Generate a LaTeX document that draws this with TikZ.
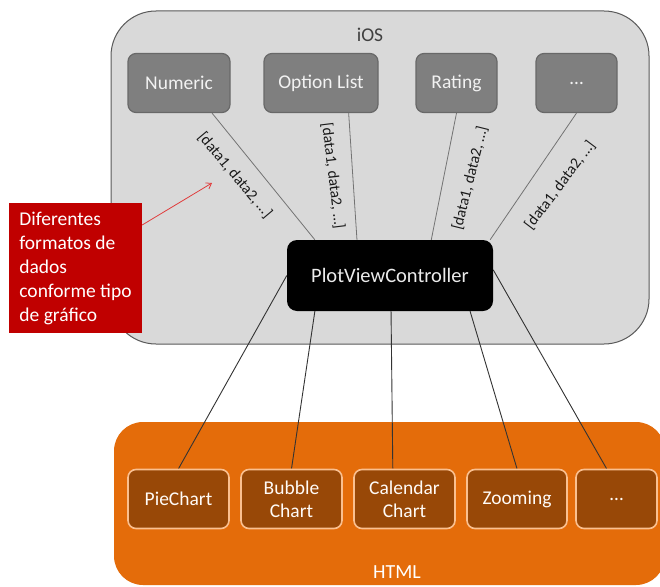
\documentclass[tikz,border=0pt]{standalone}
\usepackage{fontspec}
\setmainfont{Carlito}
\usetikzlibrary{calc,arrows.meta}
\pgfdeclarelayer{bg}
\pgfdeclarelayer{mid}
\pgfsetlayers{bg,mid,main}

\definecolor{iosfill}{HTML}{D9D9D9}
\definecolor{iosedge}{HTML}{595959}
\definecolor{modfill}{HTML}{7F7F7F}
\definecolor{modedge}{HTML}{686868}
\definecolor{htmlfill}{HTML}{E46C0A}
\definecolor{chartfill}{HTML}{984807}
\definecolor{chartedge}{HTML}{FAC090}
\definecolor{notefill}{HTML}{C00000}
\definecolor{notearrow}{HTML}{E03C3C}

\tikzset{
  container/.style={rectangle, inner sep=0pt},
  module/.style={rectangle, rounded corners=8pt, fill=modfill, draw=modedge,
    line width=1.2pt, text=white!95!black, inner sep=0pt,
    font=\fontsize{19.5}{23}\selectfont, minimum height=59pt},
  chart/.style={rectangle, rounded corners=8pt, fill=chartfill, draw=chartedge,
    line width=1.6pt, text=white!97!orange, inner sep=0pt, align=center,
    font=\fontsize{19.5}{23}\selectfont, minimum height=59pt},
  datalabel/.style={inner sep=0pt, text=black!90, font=\fontsize{15.5}{18}\selectfont},
  toplink/.style={draw=black!55, line width=0.8pt},
  botlink/.style={draw=black!80, line width=0.9pt}
}

\begin{document}
\begin{tikzpicture}[x=1pt, y=-1pt]
\useasboundingbox (0,0) rectangle (660,586);

% containers
\begin{pgfonlayer}{bg}
  \fill[white] (0,0) rectangle (660,586);
  \draw[fill=iosfill, draw=iosedge, line width=1pt, rounded corners=45pt]
    (111,11) rectangle (649,344);
  \fill[htmlfill, rounded corners=29pt] (114,422) rectangle (665,585);
\end{pgfonlayer}
\node[container, text=black!75, font=\fontsize{19.5}{23}\selectfont] (ioslabel) at (370,35) {iOS};
\node[container, text=white, font=\fontsize{20}{24}\selectfont] (htmllabel) at (397,572) {HTML};

% iOS data modules
\node[module, minimum width=102pt] (num)  at (179,83)   {Numeric};
\node[module, minimum width=114pt] (opt)  at (321,83)   {Option List};
\node[module, minimum width=81pt]  (rat)  at (456.5,83) {Rating};
\node[module, minimum width=81pt]  (more) at (576.5,83) {…};

% central controller
\node[rectangle, rounded corners=10pt, fill=black, text=white!92!black,
  minimum width=206pt, minimum height=71pt, inner sep=0pt,
  font=\fontsize{20.5}{24}\selectfont] (pvc) at (390,275.5) {PlotViewController};

% HTML charts
\node[chart, minimum width=101pt] (pie)  at (178.5,499) {PieChart};
\node[chart, minimum width=101pt] (bub)  at (291.5,499) {Bubble\\Chart};
\node[chart, minimum width=101pt] (cal)  at (404.5,499) {Calendar\\Chart};
\node[chart, minimum width=100pt] (zoom) at (517,499)   {Zooming};
\node[chart, minimum width=81pt]  (etc)  at (616.5,499) {…};

% note box
\node[rectangle, fill=notefill, text=white, inner sep=0pt, align=left,
  minimum width=133pt, minimum height=130pt,
  font=\fontsize{19.5}{24}\selectfont] (note) at (75.5,268)
  {Diferentes\\formatos de\\dados\\conforme tipo\\de gráfico};
\coordinate (notetip) at (212,183);

% connectors
\begin{pgfonlayer}{mid}
  \draw[toplink] ($(num.south west)!0.82!(num.south east)$) -- ($(pvc.north west)!0.136!(pvc.north east)$);
  \draw[toplink] ($(opt.south west)!0.74!(opt.south east)$) -- ($(pvc.north west)!0.34!(pvc.north east)$);
  \draw[toplink] (rat.south) -- ($(pvc.north west)!0.70!(pvc.north east)$);
  \draw[toplink] (more.south) -- ($(pvc.north west)!0.985!(pvc.north east)$);

  \draw[botlink] (pvc.west) -- (pie.north);
  \draw[botlink] ($(pvc.south west)!0.136!(pvc.south east)$) -- (bub.north);
  \draw[botlink] ($(pvc.south west)!0.505!(pvc.south east)$) -- ($(cal.north west)!0.386!(cal.north east)$);
  \draw[botlink] ($(pvc.south west)!0.888!(pvc.south east)$) -- (zoom.north);
  \draw[botlink] ($(pvc.north east)!0.42!(pvc.south east)$) -- ($(etc.north west)!0.38!(etc.north east)$);
\end{pgfonlayer}

\draw[notearrow, line width=0.8pt, -{Straight Barb[length=5pt,width=7pt]}]
  ($(note.north east)!0.17!(note.south east)$) -- (notetip);

% data format labels
\node[datalabel, rotate=-50] (lab1) at (235,175) {[data1, data2, …]};
\node[datalabel, rotate=-83] (lab2) at (333,176) {[data1, data2, …]};
\node[datalabel, rotate=76]  (lab3) at (470,178) {[data1, data2, …]};
\node[datalabel, rotate=53]  (lab4) at (560,185) {[data1, data2, …]};
\end{tikzpicture}
\end{document}
